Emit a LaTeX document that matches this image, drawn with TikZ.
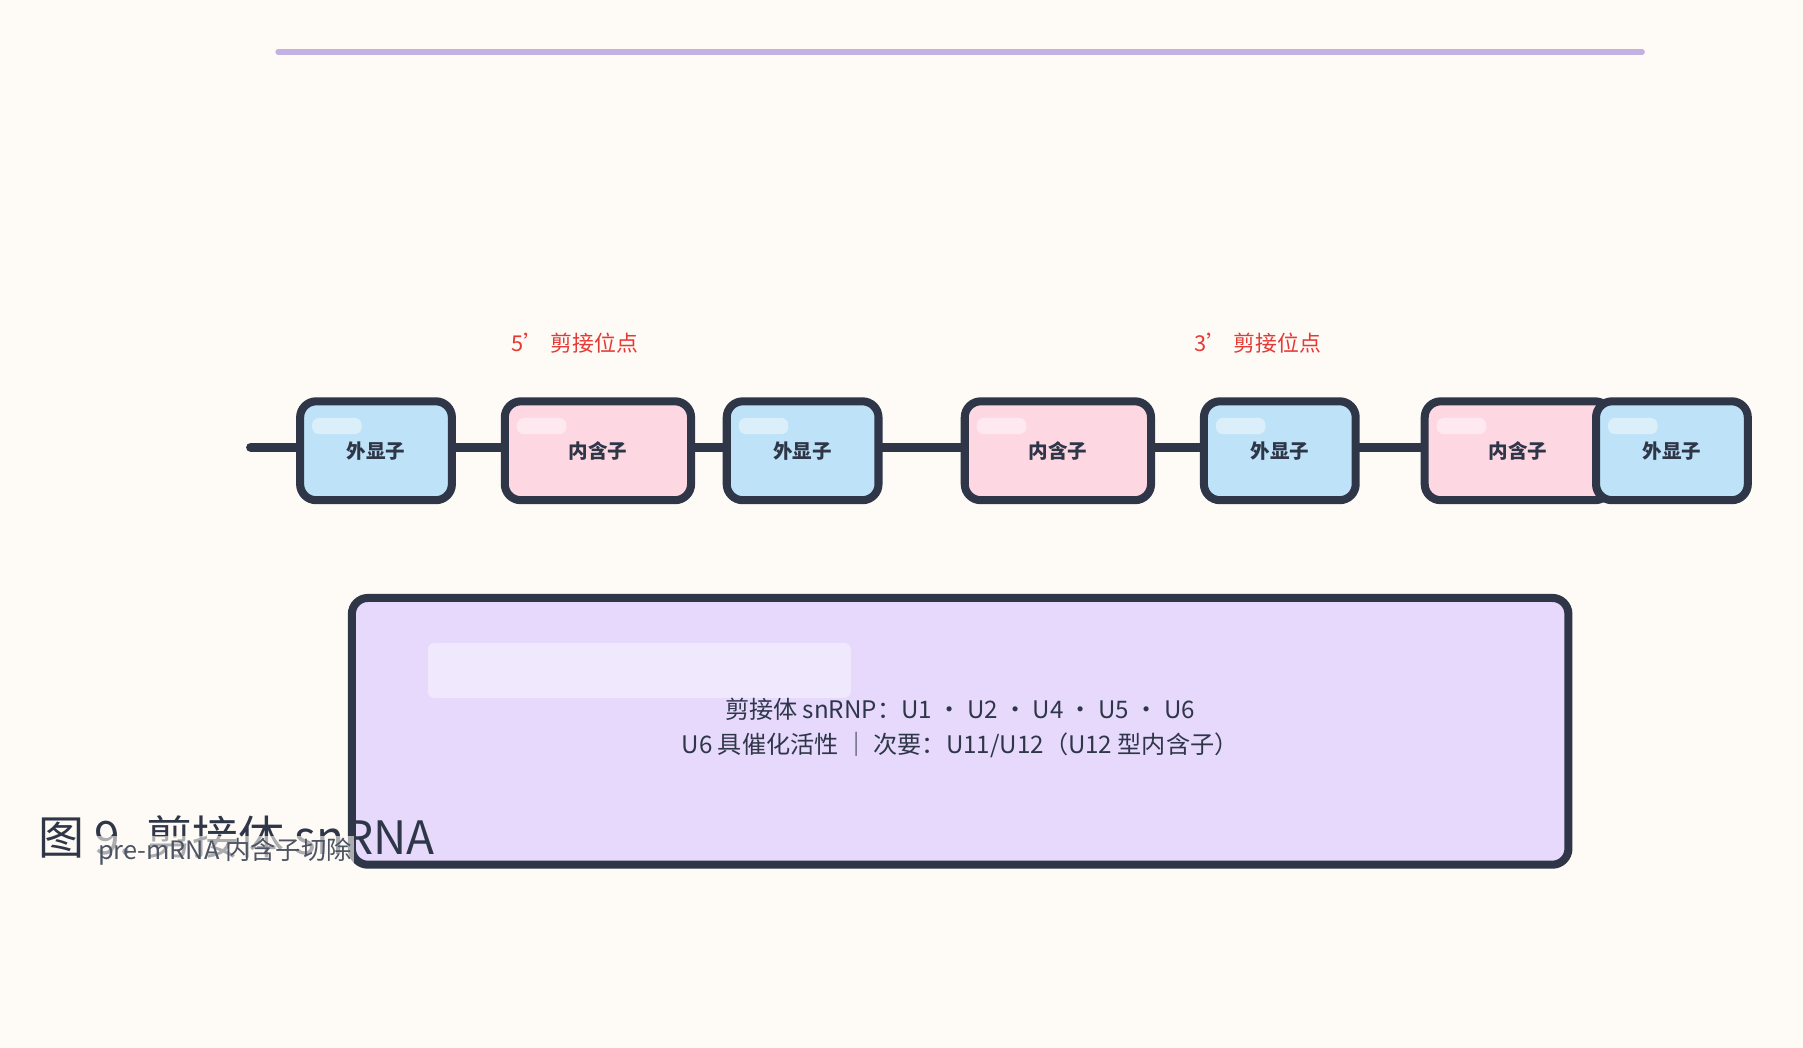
\documentclass[tikz,border=0pt]{standalone}
\usepackage{fontspec}
\setmainfont{Noto Sans CJK SC}
\usetikzlibrary{positioning}
\definecolor{ink}{HTML}{2E3648}
\definecolor{bgc}{HTML}{FEFBF6}
\definecolor{exonc}{HTML}{BEE3F8}
\definecolor{intronc}{HTML}{FDD8E3}
\definecolor{lilac}{HTML}{E6D9FC}
\definecolor{rulec}{HTML}{C3B1E1}
\definecolor{sitec}{HTML}{E53935}
\begin{document}
\begin{tikzpicture}
    [
    x=0.5pt, y=-0.5pt,
    seg/.style={
        rectangle,
        rounded corners=7pt,
        draw=ink,
        line width=3.5pt,
        minimum height=43pt,
        text centered,
        font=\fontsize{8}{10}\selectfont,
        text=ink
    },
    exon/.style={seg, fill=exonc, minimum width=66pt},
    intron/.style={seg, fill=intronc, minimum width=81pt},
    shine/.style={fill=white, fill opacity=0.45, rounded corners=3pt},
    strand/.style={ink, line width=4pt, line cap=round},
    site/.style={font=\fontsize{9.5}{11}\selectfont, text=sitec}
    ]

    \fill[bgc] (0,0) rectangle (1568,911);
    \useasboundingbox (0,0) rectangle (1568,911);

% Top rule
    \coordinate (r1) at (242,45);
    \coordinate (r2) at (1428,45);
    \draw[rulec, line width=2.5pt, line cap=round] (r1) -- (r2);

% Splice sites
    \node[site] (s5) at (500,298) {5' 剪接位点};
    \node[site] (s3) at (1094,298) {3' 剪接位点};

% pre-mRNA strand
    \coordinate (start) at (218,389);
    \node[exon] (e1) at (327,392) {};
    \node[intron] (i1) at (520,392) {};
    \node[exon] (e2) at (698,392) {};
    \node[intron] (i2) at (920,392) {};
    \node[exon] (e3) at (1113,392) {};
    \node[intron] (i3) at (1320,392) {};
    \node[exon] (e4) at (1454,392) {};

    \draw[strand] (start) -- (e1.west|-start);
    \draw[strand] (e1.east|-start) -- (i1.west|-start);
    \draw[strand] (i1.east|-start) -- (e2.west|-start);
    \draw[strand] (e2.east|-start) -- (i2.west|-start);
    \draw[strand] (i2.east|-start) -- (e3.west|-start);
    \draw[strand] (e3.east|-start) -- (i3.west|-start);

    \foreach \n/\t in {e1/外显子, i1/内含子, e2/外显子, i2/内含子, e3/外显子, i3/内含子, e4/外显子}{
        \fill[shine] ([xshift=7pt,yshift=-9pt]\n.north west) rectangle ++(43,14);
        \node[font=\fontsize{8.5}{10}\selectfont\bfseries, text=ink] at (\n) {\t};
    }

% Spliceosome
    \node[seg, fill=lilac, minimum width=529pt, minimum height=116pt] (sp) at (835,636) {};
    \fill[shine, fill opacity=0.4] (372,559) rectangle (740,607);
    \node[font=\fontsize{10.5}{15}\selectfont, text=ink, align=center] (spt) at (835,633)
        {剪接体 snRNP：U1 · U2 · U4 · U5 · U6\\U6 具催化活性 ｜ 次要：U11/U12（U12 型内含子）};

% Caption
    \node[font=\fontsize{20}{24}\selectfont, text=ink, anchor=west] (cap) at (26,728) {图 9. 剪接体 snRNA};
    \node[font=\fontsize{11}{13}\selectfont, text=ink!85, anchor=west, fill=bgc, fill opacity=0.6, text opacity=1, inner sep=1pt] (sub) at (83,741) {pre-mRNA 内含子切除};

\end{tikzpicture}
\end{document}
